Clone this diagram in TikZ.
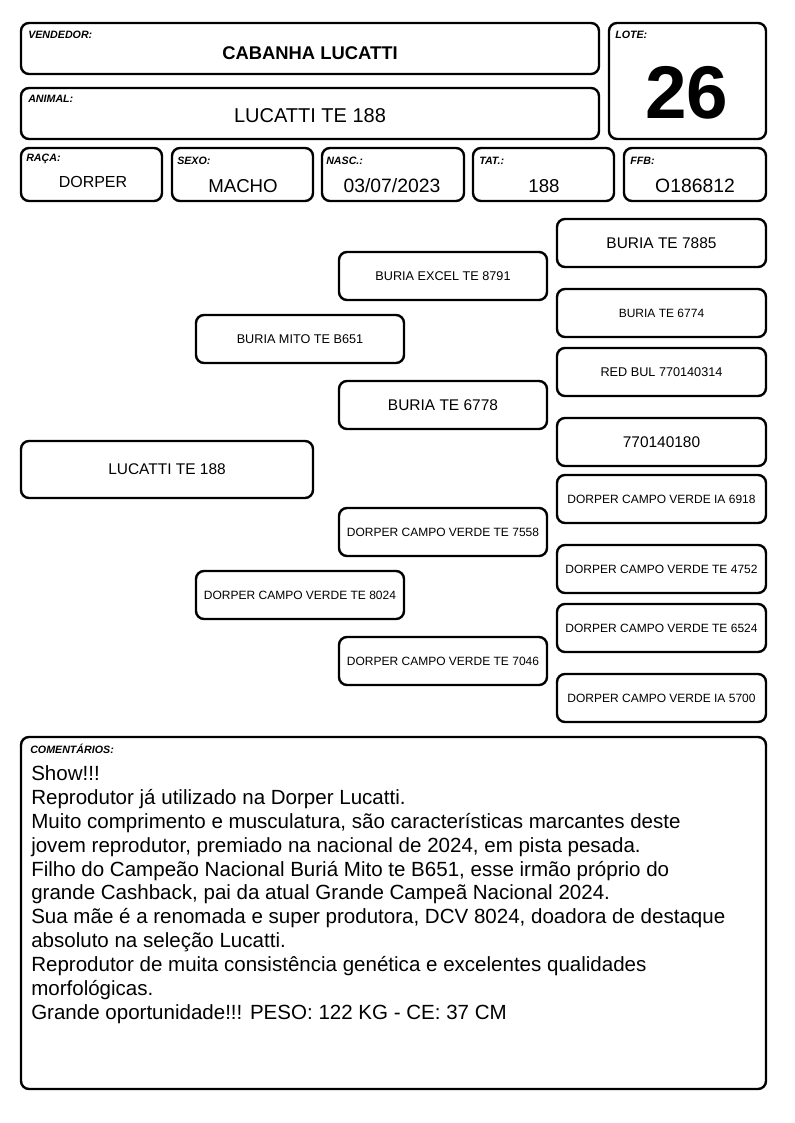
\documentclass[tikz,border=0pt]{standalone}
\usepackage{fontspec}
\setmainfont{Liberation Sans}
\tikzset{
    box/.style={draw,line width=1.8pt,rounded corners=6pt,inner sep=0pt},
    tag/.style={anchor=west,inner sep=0pt,font=\fontsize{8}{9}\selectfont\bfseries\itshape},
    val/.style={inner sep=0pt,font=\fontsize{14}{16}\selectfont},
    ped/.style={box,minimum width=156pt,minimum height=36pt,font=\fontsize{9}{10}\selectfont},
    pedbig/.style={ped,font=\fontsize{11.6}{13}\selectfont},
    pedmid/.style={ped,font=\fontsize{9.5}{11}\selectfont},
}
\begin{document}
\begin{tikzpicture}[x=0.75pt,y=-0.75pt]
        \useasboundingbox (0,0) rectangle (794,1123);
        \node[box,minimum width=433.5pt,minimum height=38.25pt] (vendedor) at (310,48.5) {};
        \node[box,minimum width=433.5pt,minimum height=38.25pt] (animal) at (310,113.5) {};
        \node[box,minimum width=117.75pt,minimum height=87pt] (lote) at (687.5,81) {};
        \node[box,minimum width=105.75pt,minimum height=39.75pt] (raca) at (91.5,174.5) {};
        \node[box,minimum width=105.75pt,minimum height=39.75pt] (sexo) at (242.5,174.5) {};
        \node[box,minimum width=106.5pt,minimum height=39.75pt] (nasc) at (393,174.5) {};
        \node[box,minimum width=105.75pt,minimum height=39.75pt] (tat) at (543.5,174.5) {};
        \node[box,minimum width=106.5pt,minimum height=39.75pt] (ffb) at (695,174.5) {};
        \node[box,minimum width=558.75pt,minimum height=264pt] (coment) at (393.5,913) {};

        \node[tag] (vendedortag) at (28,35) {VENDEDOR:};
        \node[tag] (animaltag) at (28,99) {ANIMAL:};
        \node[tag] (lotetag) at (615,35) {LOTE:};
        \node[tag] (racatag) at (26,158.5) {RAÇA:};
        \node[tag] (sexotag) at (177,160.5) {SEXO:};
        \node[tag] (nasctag) at (326,160.5) {NASC.:};
        \node[tag] (tattag) at (479,160.5) {TAT.:};
        \node[tag] (ffbtag) at (630,160.5) {FFB:};
        \node[tag] (comenttag) at (30,748.5) {COMENTÁRIOS:};

        \node[val,font=\fontsize{13.8}{16}\selectfont\bfseries] (vendedorval) at (310,53) {CABANHA LUCATTI};
        \node[val,font=\fontsize{15}{17}\selectfont] (animalval) at (310,115.5) {LUCATTI TE 188};
        \node[val,font=\fontsize{56}{60}\selectfont\bfseries] (loteval) at (687,93) {26};
        \node[val,font=\fontsize{12}{14}\selectfont] (racaval) at (93,182) {DORPER};
        \node[val] (sexoval) at (243,186) {MACHO};
        \node[val,font=\fontsize{14.5}{16}\selectfont] (nascval) at (392,186) {03/07/2023};
        \node[val] (tatval) at (544,186) {188};
        \node[val,font=\fontsize{14.5}{16}\selectfont] (ffbval) at (695,186) {O186812};

        \node[pedbig,minimum width=219pt,minimum height=42.75pt] (animalped) at (167,469.5) {LUCATTI TE 188};
        \node[pedmid] (pai) at (300,339) {BURIA MITO TE B651};
        \node[ped] (mae) at (300,595) {DORPER CAMPO VERDE TE 8024};
        \node[pedmid] (avopp) at (443,276) {BURIA EXCEL TE 8791};
        \node[pedbig] (avopm) at (443,405) {BURIA TE 6778};
        \node[ped] (avomp) at (443,532) {DORPER CAMPO VERDE TE 7558};
        \node[ped] (avomm) at (443,661) {DORPER CAMPO VERDE TE 7046};
        \node[pedbig,minimum width=156.75pt] (bis1) at (661.5,243) {BURIA TE 7885};
        \node[ped,minimum width=156.75pt] (bis2) at (661.5,313) {BURIA TE 6774};
        \node[pedmid,minimum width=156.75pt] (bis3) at (661.5,372) {RED BUL 770140314};
        \node[pedbig,minimum width=156.75pt] (bis4) at (661.5,442) {770140180};
        \node[ped,minimum width=156.75pt] (bis5) at (661.5,499) {DORPER CAMPO VERDE IA 6918};
        \node[ped,minimum width=156.75pt] (bis6) at (661.5,569) {DORPER CAMPO VERDE TE 4752};
        \node[ped,minimum width=156.75pt] (bis7) at (661.5,628) {DORPER CAMPO VERDE TE 6524};
        \node[ped,minimum width=156.75pt] (bis8) at (661.5,698) {DORPER CAMPO VERDE IA 5700};

        \node[anchor=north west,inner sep=0pt,align=left,font=\fontsize{15.4}{17.9}\selectfont] (comenttxt) at (31,765.5) {Show!!!\\
            Reprodutor já utilizado na Dorper Lucatti.\\
            Muito comprimento e musculatura, são características marcantes deste\\
            jovem reprodutor, premiado na nacional de 2024, em pista pesada.\\
            Filho do Campeão Nacional Buriá Mito te B651, esse irmão próprio do\\
            grande Cashback, pai da atual Grande Campeã Nacional 2024.\\
            Sua mãe é a renomada e super produtora, DCV 8024, doadora de destaque\\
            absoluto na seleção Lucatti.\\
            Reprodutor de muita consistência genética e excelentes qualidades\\
            morfológicas.\\
            Grande oportunidade!!! PESO: 122 KG - CE: 37 CM};
    \end{tikzpicture}
\end{document}
